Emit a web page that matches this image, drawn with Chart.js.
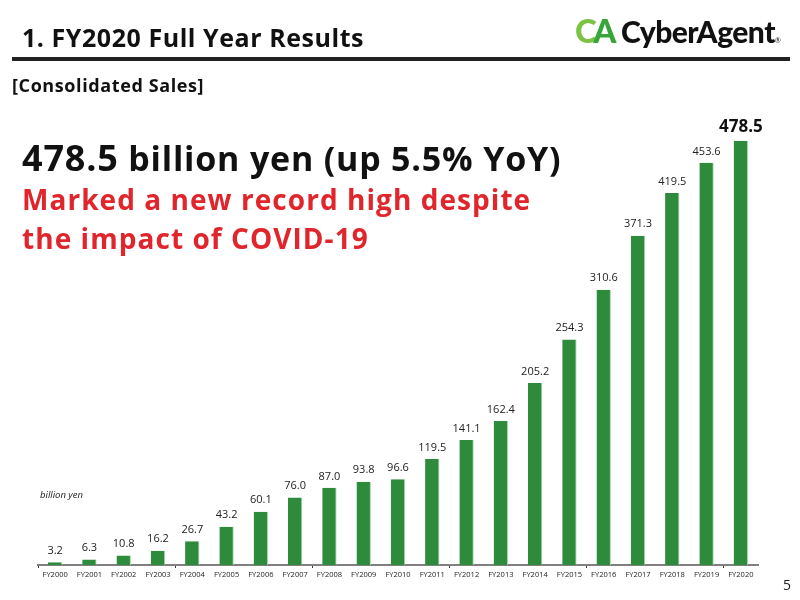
<!DOCTYPE html>
<html>
<head>
<meta charset="utf-8">
<script src="https://cdn.jsdelivr.net/npm/chart.js@4"></script>
<style>
  html, body { margin: 0; padding: 0; background: #fff; }
  body { width: 800px; height: 600px; position: relative; overflow: hidden; font-family: "Open Sans", Lato, sans-serif; }
  .abs { position: absolute; white-space: nowrap; }
  #title { left: 22px; top: 20px; font-size: 25px; font-weight: 700; color: #111; letter-spacing: 0.55px; }
  #rule { left: 12px; top: 57px; width: 778px; height: 4px; background: #222; }
  #section { left: 12px; top: 73px; font-size: 18px; font-weight: 700; color: #111; letter-spacing: 0.6px; }
  #logo { left: 575px; top: 10px; font-size: 30px; font-weight: 900; color: #111; letter-spacing: -0.5px; font-family: Lato, sans-serif; }
  #logo .c { color: #7cc243; font-size: 33px; }
  #logo .a { color: #35a637; margin-right: 5px; font-size: 33px; margin-left: -3px; }
  #logo sup { font-size: 7px; font-weight: 400; vertical-align: baseline; }
  #headline { left: 22px; top: 133px; font-size: 34px; font-weight: 700; color: #111; letter-spacing: 0.8px; }
  #headline b { font-size: 36px; font-weight: 700; }
  #red { left: 22px; top: 180px; font-size: 28px; font-weight: 700; color: #e0262c; line-height: 39px; letter-spacing: 1.05px; }
  #unit { left: 40px; top: 488px; font-size: 9.5px; font-style: italic; color: #222; }
  #page { left: 783px; top: 575px; font-size: 14px; color: #222; }
  #wrap { left: 0; top: 0; width: 800px; height: 600px; }
</style>
</head>
<body>
<div class="abs" id="wrap"><canvas id="chart"></canvas></div>
<div class="abs" id="title">1. FY2020 Full Year Results</div>
<div class="abs" id="rule"></div>
<div class="abs" id="section">[Consolidated Sales]</div>
<div class="abs" id="logo"><span class="c">C</span><span class="a">A</span>CyberAgent<sup>®</sup></div>
<div class="abs" id="headline"><b>478.5</b> billion yen (up 5.5% YoY)</div>
<div class="abs" id="red">Marked a new record high despite<br>the impact of COVID-19</div>
<div class="abs" id="unit">billion yen</div>
<div class="abs" id="page">5</div>
<script>
const years = ["FY2000", "FY2001", "FY2002", "FY2003", "FY2004", "FY2005", "FY2006",
  "FY2007", "FY2008", "FY2009", "FY2010", "FY2011", "FY2012", "FY2013", "FY2014",
  "FY2015", "FY2016", "FY2017", "FY2018", "FY2019", "FY2020"];
const sales = [3.2, 6.3, 10.8, 16.2, 26.7, 43.2, 60.1, 76.0, 87.0, 93.8, 96.6,
  119.5, 141.1, 162.4, 205.2, 254.3, 310.6, 371.3, 419.5, 453.6, 478.5];

const barGreen = "#2e8b3c";

// draws the value above each bar, the last one bigger and bold
const valueLabels = {
  id: "valueLabels",
  afterDatasetsDraw(chart) {
    const ctx = chart.ctx;
    const meta = chart.getDatasetMeta(0);
    ctx.save();
    ctx.textAlign = "center";
    ctx.textBaseline = "bottom";
    meta.data.forEach((bar, i) => {
      const last = i === sales.length - 1;
      ctx.font = last ? "bold 17px 'Open Sans', sans-serif" : "11px 'Open Sans', sans-serif";
      ctx.fillStyle = last ? "#111" : "#222";
      ctx.fillText(sales[i].toFixed(1), bar.x, bar.y - (last ? 5 : 6));
    });
    ctx.restore();
  }
};

new Chart(document.getElementById("chart"), {
  type: "bar",
  data: {
    labels: years,
    datasets: [{
      data: sales,
      backgroundColor: barGreen,
      borderColor: "#a9d6a9",
      borderWidth: { top: 0, left: 0, bottom: 0, right: 1 },
      borderSkipped: false,
      categoryPercentage: 1,
      barPercentage: 0.42
    }]
  },
  options: {
    responsive: true,
    maintainAspectRatio: false,
    animation: false,
    layout: { padding: { left: 38, right: 42, top: 104, bottom: 19 } },
    plugins: { legend: { display: false }, tooltip: { enabled: false } },
    scales: {
      x: {
        border: { display: true, color: "#808080", width: 2 },
        grid: {
          drawOnChartArea: false,
          tickLength: 3,
          color: (c) => (c.index % 4 === 0 ? "#333" : "rgba(0,0,0,0)")
        },
        ticks: {
          color: "#222",
          font: { family: "'Open Sans', sans-serif", size: 7.5 },
          padding: 2,
          maxRotation: 0,
          autoSkip: false
        }
      },
      y: { display: false, min: 0, max: 520 }
    }
  },
  plugins: [valueLabels]
});
</script>
</body>
</html>
